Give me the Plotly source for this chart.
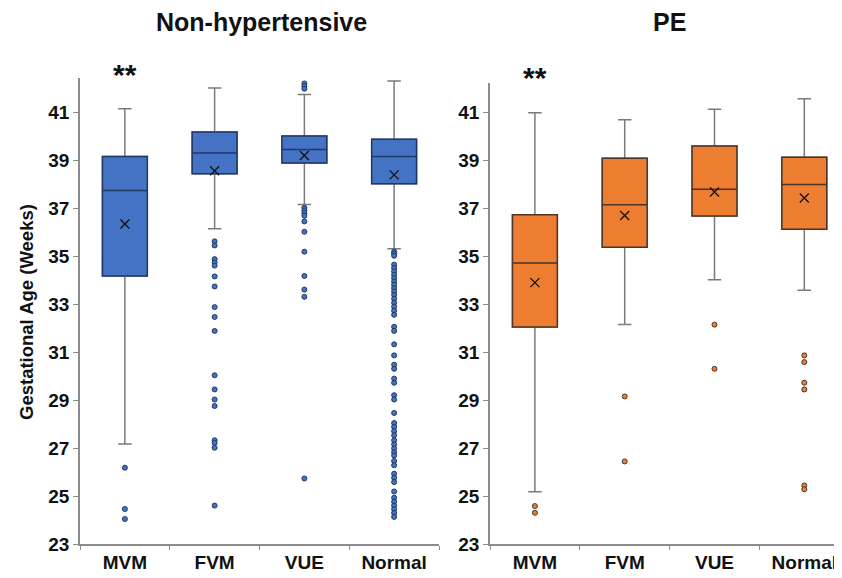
import plotly.graph_objects as go

categories = ["MVM", "FVM", "VUE", "Normal"]

# Non-hypertensive summary statistics
nh_lower = [27.17, 36.14, 37.15, 35.30]
nh_q1 = [34.17, 38.43, 38.87, 38.01]
nh_median = [37.73, 39.29, 39.44, 39.15]
nh_q3 = [39.15, 40.17, 40.00, 39.86]
nh_upper = [41.14, 42.00, 41.73, 42.29]
nh_mean = [36.33, 38.55, 39.19, 38.38]

nh_out_mvm = [26.18, 24.46, 24.04]
nh_out_fvm = [35.61, 35.44, 34.87, 34.73, 34.60, 34.15, 33.73, 32.87, 32.46, 31.88,
              30.03, 29.44, 29.02, 28.75, 27.32, 27.21, 27.01, 24.60]
nh_out_vue = [42.19, 42.08, 41.97, 37.01, 36.90, 36.79, 36.68, 36.44, 36.01, 35.18,
              34.17, 33.60, 33.30, 25.73]
nh_out_normal = [35.18, 35.10, 35.01, 34.64, 34.50, 34.36, 34.22, 34.08, 33.94, 33.80,
                 33.66, 33.52, 33.38, 33.22, 33.05, 32.89, 32.72, 32.55, 32.05, 31.88,
                 31.32, 30.86, 30.47, 30.30, 29.89, 29.72, 29.20, 29.02, 28.46, 28.04,
                 27.88, 27.70, 27.53, 27.32, 27.15, 26.98, 26.82, 26.69, 26.46, 26.28,
                 25.93, 25.76, 25.58, 25.19, 24.93, 24.76, 24.60, 24.45, 24.29, 24.13]

# PE summary statistics
pe_lower = [25.18, 32.15, 34.01, 33.57]
pe_q1 = [32.04, 35.36, 36.67, 36.11]
pe_median = [34.71, 37.14, 37.78, 37.98]
pe_q3 = [36.72, 39.07, 39.58, 39.11]
pe_upper = [40.97, 40.68, 41.11, 41.55]
pe_mean = [33.89, 36.69, 37.67, 37.42]

pe_out_mvm = [24.58, 24.30]
pe_out_fvm = [29.15, 26.44]
pe_out_vue = [32.14, 30.30]
pe_out_normal = [30.86, 30.58, 29.72, 29.44, 25.44, 25.28]

y_ticks = [23, 25, 27, 29, 31, 33, 35, 37, 39, 41]

BLUE = "#4472C4"
BLUE_DARK = "#1F3864"
ORANGE = "#ED7D31"
ORANGE_DARK = "#4a3526"
WHISKER = "#7a7a7a"
AXIS = "#8c8c8c"
FONT = "Liberation Sans, Arial"

fig = go.Figure()


def add_panel(xa, ya, lower, q1, med, q3, upper, mean, outs, fill, dark):
    # whiskers (gray)
    fig.add_trace(go.Box(
        x=categories, q1=q1, median=med, q3=q3, lowerfence=lower, upperfence=upper,
        fillcolor=fill, line=dict(color=WHISKER, width=1.5), whiskerwidth=0.3,
        boxpoints=False, xaxis=xa, yaxis=ya, showlegend=False, hoverinfo="skip"))
    # box body (dark outline)
    fig.add_trace(go.Box(
        x=categories, q1=q1, median=med, q3=q3, lowerfence=q1, upperfence=q3,
        fillcolor=fill, line=dict(color=dark, width=1.5), whiskerwidth=0,
        boxpoints=False, xaxis=xa, yaxis=ya, showlegend=False, hoverinfo="skip"))
    # means
    fig.add_trace(go.Scatter(
        x=categories, y=mean, mode="markers", xaxis=xa, yaxis=ya, showlegend=False,
        marker=dict(symbol="x-thin", size=9, line=dict(color="#111111", width=1.3))))
    # outliers
    ox, oy = [], []
    for c, vals in zip(categories, outs):
        ox += [c] * len(vals)
        oy += vals
    fig.add_trace(go.Scatter(
        x=ox, y=oy, mode="markers", xaxis=xa, yaxis=ya, showlegend=False,
        marker=dict(symbol="circle", size=5, color=fill, line=dict(color=dark, width=1))))


add_panel("x", "y", nh_lower, nh_q1, nh_median, nh_q3, nh_upper, nh_mean,
          [nh_out_mvm, nh_out_fvm, nh_out_vue, nh_out_normal], BLUE, BLUE_DARK)
add_panel("x2", "y2", pe_lower, pe_q1, pe_median, pe_q3, pe_upper, pe_mean,
          [pe_out_mvm, pe_out_fvm, pe_out_vue, pe_out_normal], ORANGE, ORANGE_DARK)

# page body has an 8px margin, so the figure is placed 8px in from the corner
OFF = 8
W, H = 842 - OFF, 578 - OFF


def px(x):
    return (x - OFF) / W


def py(y):
    return (H - (y - OFF)) / H


tickfont = dict(family=FONT, size=19, color="#111111", weight="bold")

xcommon = dict(type="category", categoryorder="array", categoryarray=categories,
               showline=True, linecolor=AXIS, linewidth=1.5, ticks="outside",
               tickson="boundaries", ticklen=4, tickcolor=AXIS, showgrid=False,
               zeroline=False, tickfont=tickfont, automargin=False)
ycommon = dict(showline=True, linecolor=AXIS, linewidth=1.5, ticks="outside",
               ticklen=5, tickcolor=AXIS, showgrid=False, zeroline=False,
               tickvals=y_ticks, ticktext=[str(v) for v in y_ticks], tickfont=tickfont,
               automargin=False)

fig.update_layout(
    width=W, height=H, margin=dict(l=0, r=0, t=0, b=0, autoexpand=False),
    paper_bgcolor="white", plot_bgcolor="white",
    boxmode="overlay", boxgap=0.5, boxgroupgap=0,
    xaxis=dict(domain=[px(80), px(439)], range=[-0.5, 3.5], anchor="y", **xcommon),
    xaxis2=dict(domain=[px(490), 1.0], range=[-0.5, -0.5 + (842 - 490) / 89.8], anchor="y2",
                **xcommon),
    yaxis=dict(domain=[py(544), py(77.7)], range=[23, 23 + (544 - 77.7) / 24],
               anchor="x", **ycommon),
    yaxis2=dict(domain=[py(544), py(82.7)], range=[23, 23 + (544 - 82.7) / 24],
                anchor="x2", **ycommon),
    font=dict(family=FONT, color="#111111"),
)

bold = dict(family=FONT, size=25, color="#111111", weight="bold")
fig.add_annotation(text="Non-hypertensive", x=px(261.7), y=py(22), xref="paper",
                   yref="paper", showarrow=False, font=bold, xanchor="center", yanchor="middle")
fig.add_annotation(text="PE", x=px(669), y=py(22), xref="paper",
                   yref="paper", showarrow=False, font=bold, xanchor="center", yanchor="middle")
fig.add_annotation(text="Gestational Age (Weeks)", x=px(26), y=py(312), xref="paper",
                   yref="paper", showarrow=False, textangle=-90,
                   font=dict(family=FONT, size=18.5, color="#111111", weight="bold"),
                   xanchor="center", yanchor="middle")
star = dict(family=FONT, size=30, color="#111111", weight="bold")
fig.add_annotation(text="**", x="MVM", y=41.8, xref="x", yref="y", showarrow=False,
                   font=star, xanchor="center", yanchor="bottom")
fig.add_annotation(text="**", x="MVM", y=41.65, xref="x2", yref="y2", showarrow=False,
                   font=star, xanchor="center", yanchor="bottom")

fig.write_html("out.html")
